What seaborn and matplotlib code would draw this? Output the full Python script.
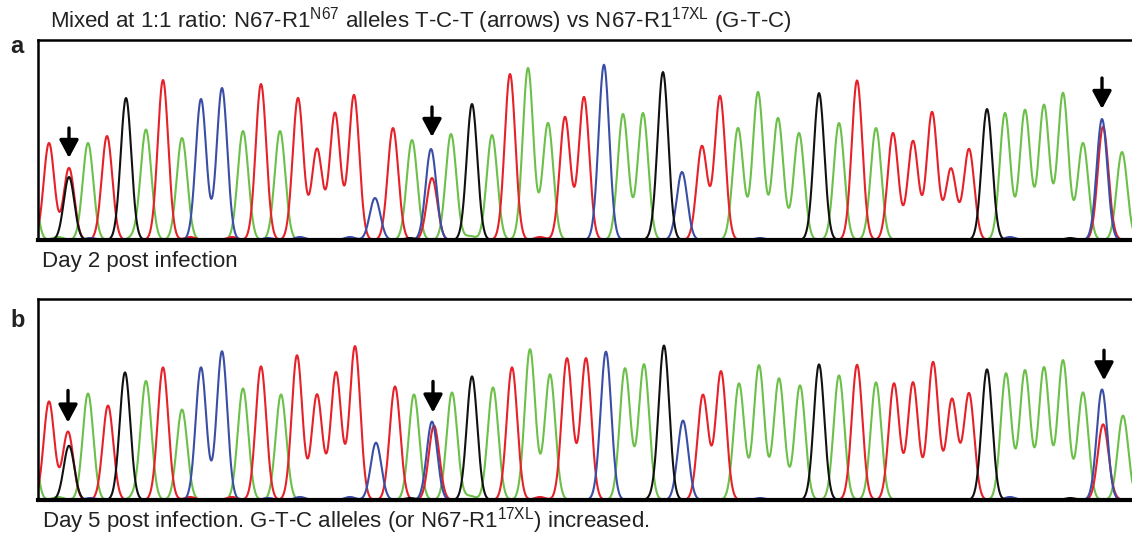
import numpy as np
import pandas as pd
import matplotlib
matplotlib.use("Agg")
import matplotlib.pyplot as plt
import seaborn as sns

sns.set_style("white")
plt.rcParams["font.family"] = ["Liberation Sans", "DejaVu Sans"]
plt.rcParams["mathtext.default"] = "regular"

# ---- Data: peaks (position, height, base channel) ----
a_pos = [30, 49, 69, 69, 88, 107, 126, 146, 163, 182, 201, 222, 243, 261, 280, 298, 317, 335, 354,
         375, 393, 412, 431, 432, 451, 472, 492, 510, 528, 548, 565, 584, 604, 623, 643, 663, 682,
         702, 720, 738, 758, 778, 799, 819, 839, 857, 876, 893, 913, 932, 951, 969, 987, 1005,
         1025, 1044, 1063, 1083, 1102, 1103, 1122]
a_height = [100, 97, 72, 63, 97, 104, 142, 110, 160, 102, 141, 152, 109, 156, 109, 142, 91, 127, 145,
            42, 112, 100, 91, 62, 106, 136, 105, 166, 172, 117, 123, 143, 173, 126, 127, 167, 68,
            91, 144, 112, 148, 122, 107, 144, 117, 157, 112, 107, 99, 127, 71, 91, 131, 127,
            130, 135, 147, 97, 121, 112, 88]
a_base = ["G", "T", "T", "A", "G", "T", "A", "G", "T", "G", "C", "C", "G", "T", "G", "T", "T", "T", "T",
          "C", "T", "G", "C", "T", "G", "A", "G", "T", "G", "G", "T", "T", "C", "G", "G", "A", "C",
          "T", "T", "G", "G", "G", "G", "A", "G", "T", "G", "T", "T", "T", "T", "T", "A", "G",
          "G", "G", "G", "G", "C", "T", "G"]

b_pos = [30, 49, 68, 69, 88, 108, 125, 146, 163, 182, 201, 222, 243, 261, 281, 297, 317, 336, 355,
         376, 395, 414, 432, 434, 452, 472, 493, 512, 530, 550, 567, 586, 606, 625, 644, 664, 683,
         703, 721, 739, 759, 779, 800, 819, 839, 857, 876, 894, 913, 933, 952, 969, 987, 1006,
         1025, 1044, 1063, 1083, 1102, 1103, 1123]
b_height = [100, 98, 68, 54, 106, 94, 127, 118, 132, 90, 132, 148, 111, 133, 105, 144, 105, 127, 153,
            57, 113, 105, 78, 74, 107, 123, 112, 132, 150, 125, 141, 141, 146, 131, 135, 153, 79,
            102, 128, 116, 134, 121, 114, 132, 124, 132, 117, 116, 117, 136, 100, 106, 130, 126,
            129, 132, 139, 107, 110, 74, 84]
b_base = a_base

# small background bumps along the baseline
noise_pos = [58, 90, 135, 190, 232, 268, 300, 350, 410, 470, 540, 600, 655, 700, 760, 820, 860, 940, 1010, 1070, 1110]
noise_height = [3, 2, 4, 3, 3, 2, 3, 3, 2, 4, 3, 3, 3, 3, 2, 3, 3, 3, 3, 2, 3]
noise_base = ["G", "C", "G", "T", "T", "C", "C", "C", "A", "G", "T", "C", "A", "T", "C", "A", "T", "T", "C", "A", "T"]

channel_colors = {"G": "#6cc04a", "T": "#e62129", "C": "#3b4ea6", "A": "#111111"}
channel_order = ["G", "T", "C", "A"]

# arrows: (position, arrow tail height, arrow tip height)
a_arrow_x = [69, 432, 1102]
a_arrow_top = [112, 133, 162]
a_arrow_tip = [82, 103, 131]
b_arrow_x = [68, 433, 1104]
b_arrow_top = [109, 118, 149]
b_arrow_tip = [77, 87, 119]

title = "Mixed at 1:1 ratio: N67-R1$^{N67}$ alleles T-C-T (arrows) vs N67-R1$^{17XL}$ (G-T-C)"
cap_a = "Day 2 post infection"
cap_b = "Day 5 post infection. G-T-C alleles (or N67-R1$^{17XL}$) increased."

SIGMA = 5.3
X0, X1 = 38, 1132


def trace_frame(pos, height, base):
    x = np.arange(X0 - 2, X1 + 2, 0.5)
    allpos = list(pos) + noise_pos
    allh = list(height) + noise_height
    allb = list(base) + noise_base
    rows = []
    for ch in channel_order:
        y = np.zeros_like(x)
        for p, h, b in zip(allpos, allh, allb):
            if b == ch:
                y += h * np.exp(-((x - p) ** 2) / (2 * SIGMA ** 2))
        rows.append(pd.DataFrame({"x": x, "signal": y, "channel": ch}))
    return pd.concat(rows, ignore_index=True)


W, H = 1132, 537
fig = plt.figure(figsize=(W / 100, H / 100), dpi=100)


def add_panel(top_px, bot_px, pos, height, base, ax_x, ax_top, ax_tip):
    ax = fig.add_axes([X0 / W, 1 - bot_px / H, (X1 - X0) / W, (bot_px - top_px) / H])
    df = trace_frame(pos, height, base)
    sns.lineplot(data=df, x="x", y="signal", hue="channel", hue_order=channel_order,
                 palette=channel_colors, linewidth=1.5, legend=False, ax=ax, estimator=None,
                 sort=False)
    ax.set_xlim(X0, X1)
    ax.set_ylim(0, 200)
    ax.set_xticks([])
    ax.set_yticks([])
    ax.set_xlabel("")
    ax.set_ylabel("")
    for s in ["top", "left"]:
        ax.spines[s].set_linewidth(1.8)
        ax.spines[s].set_color("black")
    ax.spines["bottom"].set_linewidth(3)
    ax.spines["bottom"].set_color("black")
    ax.spines["right"].set_visible(False)
    for x, t, tip in zip(ax_x, ax_top, ax_tip):
        ax.annotate("", xy=(x, tip), xytext=(x, t),
                    arrowprops=dict(arrowstyle="-|>,head_width=0.32,head_length=0.6",
                                    color="black", lw=2.4, mutation_scale=18,
                                    shrinkA=0, shrinkB=0))
    return ax


add_panel(40, 240, a_pos, a_height, a_base, a_arrow_x, a_arrow_top, a_arrow_tip)
add_panel(299, 500, b_pos, b_height, b_base, b_arrow_x, b_arrow_top, b_arrow_tip)

txt_color = "#222222"
fig.text(50 / W, 1 - 27 / H, title, fontsize=16, color=txt_color, va="baseline")
fig.text(42 / W, 1 - 267 / H, cap_a, fontsize=16, color=txt_color, va="baseline")
fig.text(42 / W, 1 - 528 / H, cap_b, fontsize=16, color=txt_color, va="baseline")
fig.text(10 / W, 1 - 53 / H, "a", fontsize=17, fontweight="bold", color=txt_color, va="baseline")
fig.text(10 / W, 1 - 327 / H, "b", fontsize=17, fontweight="bold", color=txt_color, va="baseline")

fig.savefig("out.png", dpi=100)
